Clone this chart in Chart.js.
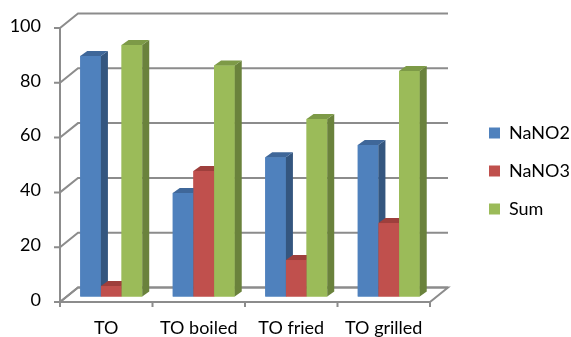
<!DOCTYPE html>
<html><head><meta charset="utf-8">
<script src="https://cdn.jsdelivr.net/npm/chart.js@4"></script>
<style>html,body{margin:0;padding:0;background:#fff;} canvas{display:block;}</style>
</head><body>
<canvas id="c" width="571" height="337"></canvas>
<script>
const categories = ['TO', 'TO boiled', 'TO fried', 'TO grilled'];
const seriesNames = ['NaNO2', 'NaNO3', 'Sum'];
const nano2 = [88, 38, 51, 55.5];
const nano3 = [4, 46, 13.5, 27];
const sum = [92, 84.5, 65, 82.5];
const yTickValues = [0, 20, 40, 60, 80, 100];

const FRONT = {dx: -5, dy: 5};
const BACK = {dx: 13, dy: -9.5};
const BAR_DEPTH = {dx: 7, dy: -5};
const GRID = '#8c8c8c';
const frontColors = ['#4F81BD', '#C0504D', '#9BBB59'];
const sideColors = ['#34567F', '#853634', '#6A823C'];
const topColors = ['#3F6799', '#9E3F3C', '#7D9A47'];
const FONT = {family: 'Lato', size: 18};

const threeD = {
  id: 'threeD',
  afterInit(chart) {
    const lg = chart.legend;
    const fit = lg.fit.bind(lg);
    lg.fit = function () { fit(); this.width = 136; };
  },
  afterLayout(chart) {
    const lg = chart.legend;
    const dx = 34;
    const h = lg.bottom - lg.top;
    lg.left += dx; lg.right += dx;
    lg.top = 104; lg.bottom = lg.top + h;
  },
  beforeDatasetsDraw(chart) {
    const {ctx, chartArea: a, scales: {x, y}} = chart;
    const y0 = y.getPixelForValue(0);
    ctx.save();
    ctx.lineWidth = 2;
    ctx.strokeStyle = GRID;
    ctx.beginPath();
    ctx.moveTo(a.left + FRONT.dx, y0 + FRONT.dy);
    ctx.lineTo(a.right + FRONT.dx, y0 + FRONT.dy);
    ctx.lineTo(a.right + BACK.dx, y0 + BACK.dy);
    ctx.lineTo(a.left + BACK.dx, y0 + BACK.dy);
    ctx.closePath();
    ctx.fillStyle = '#fff';
    ctx.fill();
    ctx.stroke();
    y.ticks.forEach(t => {
      const py = y.getPixelForValue(t.value);
      ctx.beginPath();
      ctx.moveTo(a.left + FRONT.dx - 6, py + FRONT.dy);
      ctx.lineTo(a.left + FRONT.dx, py + FRONT.dy);
      ctx.lineTo(a.left + BACK.dx, py + BACK.dy);
      ctx.lineTo(a.right + BACK.dx, py + BACK.dy);
      ctx.stroke();
    });
    ctx.beginPath();
    ctx.moveTo(a.left + FRONT.dx, y.getPixelForValue(y.max) + FRONT.dy);
    ctx.lineTo(a.left + FRONT.dx, y0 + FRONT.dy);
    const n = chart.data.labels.length;
    const w = (a.right - a.left) / n;
    for (let i = 0; i <= n; i++) {
      const px = a.left + FRONT.dx + i * w;
      ctx.moveTo(px, y0 + FRONT.dy);
      ctx.lineTo(px, y0 + FRONT.dy + 5);
    }
    ctx.stroke();
    ctx.restore();
  },
  afterDatasetsDraw(chart) {
    const ctx = chart.ctx;
    const n = chart.data.labels.length;
    ctx.save();
    for (let i = 0; i < n; i++) {
      chart.data.datasets.forEach((ds, d) => {
        const el = chart.getDatasetMeta(d).data[i];
        const {x, y, base, width} = el.getProps(['x', 'y', 'base', 'width'], true);
        const l = x - width / 2, r = x + width / 2;
        ctx.fillStyle = frontColors[d];
        ctx.fillRect(l, y, r - l, base - y);
        ctx.beginPath();
        ctx.moveTo(r, y);
        ctx.lineTo(r + BAR_DEPTH.dx, y + BAR_DEPTH.dy);
        ctx.lineTo(r + BAR_DEPTH.dx, base + BAR_DEPTH.dy);
        ctx.lineTo(r, base);
        ctx.closePath();
        ctx.fillStyle = sideColors[d];
        ctx.fill();
        ctx.beginPath();
        ctx.moveTo(l, y);
        ctx.lineTo(r, y);
        ctx.lineTo(r + BAR_DEPTH.dx, y + BAR_DEPTH.dy);
        ctx.lineTo(l + BAR_DEPTH.dx, y + BAR_DEPTH.dy);
        ctx.closePath();
        ctx.fillStyle = topColors[d];
        ctx.fill();
      });
    }
    ctx.restore();
  }
};

const seriesValues = [nano2, nano3, sum];

new Chart(document.getElementById('c'), {
  type: 'bar',
  data: {
    labels: categories,
    datasets: seriesNames.map((name, k) => ({
      label: name,
      data: seriesValues[k],
      backgroundColor: frontColors[k],
      borderWidth: 0,
      categoryPercentage: 0.67,
      barPercentage: 1.0
    }))
  },
  options: {
    responsive: false,
    devicePixelRatio: 1,
    animation: false,
    layout: {padding: {top: 23, left: 0, right: 0, bottom: 0}},
    plugins: {
      tooltip: {enabled: false},
      legend: {
        position: 'right',
        align: 'start',
        labels: {
          boxWidth: 11, boxHeight: 11, padding: 20,
          color: '#000', font: FONT,
          sort: (a, b) => a.datasetIndex - b.datasetIndex
        }
      }
    },
    scales: {
      x: {
        grid: {display: true, drawOnChartArea: false, drawTicks: true, tickLength: 18, color: 'rgba(0,0,0,0)'},
        border: {display: false},
        ticks: {color: '#000', font: FONT, padding: 2, labelOffset: -5, maxRotation: 0, autoSkip: false},
        afterFit: s => { s.height = 40; }
      },
      y: {
        min: 0, max: 100,
        afterBuildTicks: s => { s.ticks = yTickValues.map(v => ({value: v})); },
        grid: {display: true, drawOnChartArea: false, drawTicks: true, tickLength: 22, color: 'rgba(0,0,0,0)'},
        border: {display: false},
        ticks: {color: '#000', font: FONT, padding: 2, labelOffset: 3},
        afterFit: s => { s.width = 65; }
      }
    }
  },
  plugins: [threeD]
});
</script>
</body></html>
